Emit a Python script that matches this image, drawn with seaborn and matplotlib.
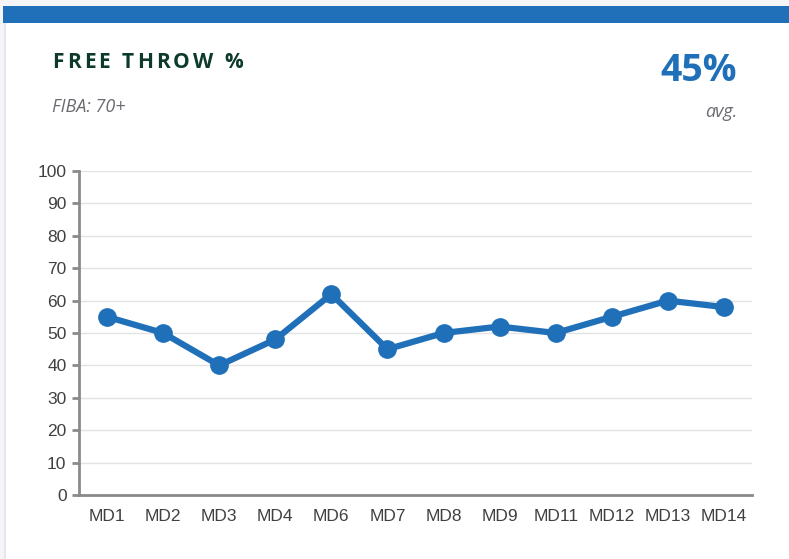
import matplotlib
matplotlib.use("Agg")
import matplotlib.pyplot as plt
import seaborn as sns
import pandas as pd

# === Data ===
matchdays = ["MD1", "MD2", "MD3", "MD4", "MD6", "MD7", "MD8", "MD9",
             "MD11", "MD12", "MD13", "MD14"]
ft_pct = [55, 50, 40, 48, 62, 45, 50, 52, 50, 55, 60, 58]
y_ticks = list(range(0, 101, 10))

title = "FREE THROW %"
subtitle = "FIBA: 70+"
avg_text = "45%"
avg_label = "avg."

df = pd.DataFrame({"md": matchdays, "pct": ft_pct})

sns.set_theme(style="white")
plt.rcParams["font.family"] = ["Liberation Sans", "DejaVu Sans"]

BLUE = "#1f6fb9"
SPINE = "#8a8a8a"
HEAD_FONT = ["Open Sans", "DejaVu Sans"]

fig = plt.figure(figsize=(7.89, 5.59), dpi=100)
fig.patch.set_facecolor("#f5f5f7")

# === Card background and top bar ===
card = plt.Rectangle((5 / 789, 0), 1, 1 - 22 / 559, transform=fig.transFigure,
                     facecolor="white", edgecolor="none", zorder=-2)
fig.patches.append(card)
border = plt.Rectangle((4 / 789, 0), 2 / 789, 1 - 22 / 559, transform=fig.transFigure,
                       facecolor="#e6e6ec", edgecolor="none", zorder=-1)
fig.patches.append(border)
bar = plt.Rectangle((3 / 789, 1 - 23 / 559), 1, 17 / 559, transform=fig.transFigure,
                    facecolor=BLUE, edgecolor="none", zorder=0)
fig.patches.append(bar)

# === Header texts ===
# title drawn letter by letter to get the wide letter spacing
renderer = fig.canvas.get_renderer()
title_kw = dict(fontsize=15, fontweight="bold", color="#0d3b2b",
                family=HEAD_FONT, va="center", ha="left")
spacing = 3.2  # px between letters
x0 = 52
for i, ch in enumerate(title):
    if i > 0:
        probe = fig.text(0, 0, title[:i].replace(" ", "\u00a0"), **title_kw)
        w = probe.get_window_extent(renderer).width
        probe.remove()
    else:
        w = 0
    fig.text((x0 + w + i * spacing) / 789, 1 - 63 / 559, ch, **title_kw)

fig.text(52 / 789, 1 - 107 / 559, subtitle, fontsize=13, style="italic",
         color="#6b6b72", family=HEAD_FONT, va="center", ha="left")
fig.text(737 / 789, 1 - 71 / 559, avg_text, fontsize=27, fontweight="bold",
         color=BLUE, family=HEAD_FONT, va="center", ha="right")
fig.text(737 / 789, 1 - 112 / 559, avg_label, fontsize=13, style="italic",
         color="#6b6b72", family=HEAD_FONT, va="center", ha="right")

# === Line chart ===
ax = fig.add_axes([79 / 789, 1 - 495 / 559, (752 - 79) / 789, (495 - 171) / 559])
ax.set_facecolor("none")
sns.lineplot(data=df, x="md", y="pct", ax=ax, color=BLUE, linewidth=4.5,
             marker="o", markersize=13.5, markeredgewidth=0, sort=False,
             zorder=3, clip_on=False)

ax.set_xlim(-0.5, len(matchdays) - 0.5)
ax.set_ylim(0, 100)
ax.set_yticks(y_ticks)
ax.set_xticks(range(len(matchdays)))
ax.set_xticklabels(matchdays)
ax.set_xticks([i - 0.5 for i in range(len(matchdays) + 1)], minor=True)
ax.set_xlabel("")
ax.set_ylabel("")

ax.yaxis.grid(True, color="#e3e3e3", linewidth=1)
ax.xaxis.grid(False)
for side in ["top", "right"]:
    ax.spines[side].set_visible(False)
for side in ["left", "bottom"]:
    ax.spines[side].set_color(SPINE)
    ax.spines[side].set_linewidth(2)

ax.tick_params(axis="x", which="major", length=0, pad=10, labelsize=12.5, labelcolor="#404040")
ax.tick_params(axis="x", which="minor", length=5, width=2, color=SPINE, direction="out")
ax.tick_params(axis="y", length=5, width=2, color=SPINE, pad=4, labelsize=12.5,
               labelcolor="#404040", left=True)

fig.savefig("out.png", dpi=100, facecolor=fig.get_facecolor())
